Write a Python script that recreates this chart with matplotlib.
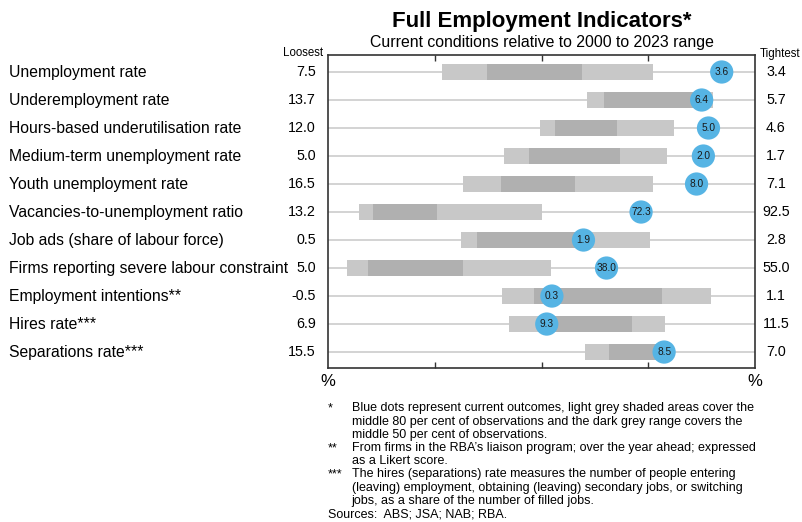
import matplotlib
matplotlib.use("Agg")
import matplotlib.pyplot as plt
from matplotlib.transforms import blended_transform_factory

plt.rcParams['font.family'] = ['Liberation Sans', 'DejaVu Sans']

indicators = [
    "Unemployment rate",
    "Underemployment rate",
    "Hours-based underutilisation rate",
    "Medium-term unemployment rate",
    "Youth unemployment rate",
    "Vacancies-to-unemployment ratio",
    "Job ads (share of labour force)",
    "Firms reporting severe labour constraint",
    "Employment intentions**",
    "Hires rate***",
    "Separations rate***",
]
loosest = [7.5, 13.7, 12.0, 5.0, 16.5, 13.2, 0.5, 5.0, -0.5, 6.9, 15.5]
tightest = [3.4, 5.7, 4.6, 1.7, 7.1, 92.5, 2.8, 55.0, 1.1, 11.5, 7.0]
current = [3.6, 6.4, 5.0, 2.0, 8.0, 72.3, 1.9, 38.0, 0.3, 9.3, 8.5]

# Positions within the 2000-2023 range (per cent, loosest = 0, tightest = 100)
current_pos = [92.2, 87.5, 89.1, 87.9, 86.3, 73.3, 59.8, 65.2, 52.4, 51.2, 78.7]
p10 = [26.7, 60.7, 49.7, 41.2, 31.6, 7.2, 31.1, 4.4, 40.7, 42.4, 60.2]
p90 = [76.2, 90.1, 81.1, 79.3, 76.0, 50.0, 75.5, 52.3, 89.6, 78.8, 80.0]
p25 = [37.1, 64.5, 53.2, 47.1, 40.4, 10.5, 34.8, 9.3, 48.2, 50.5, 65.9]
p75 = [59.4, 89.0, 67.6, 68.4, 57.7, 25.4, 59.5, 31.6, 78.1, 71.1, 78.0]

footnotes = [
    ("*", ["Blue dots represent current outcomes, light grey shaded areas cover the",
           "middle 80 per cent of observations and the dark grey range covers the",
           "middle 50 per cent of observations."]),
    ("**", ["From firms in the RBA\u2019s liaison program; over the year ahead; expressed",
            "as a Likert score."]),
    ("***", ["The hires (separations) rate measures the number of people entering",
             "(leaving) employment, obtaining (leaving) secondary jobs, or switching",
             "jobs, as a share of the number of filled jobs."]),
]
sources = "Sources:  ABS; JSA; NAB; RBA."

W, H = 803, 522
fig = plt.figure(figsize=(W / 100, H / 100), dpi=100)


def fx(px):
    return px / W


def fy(py):
    return 1 - py / H


ax = fig.add_axes([fx(328.3), fy(368.3), fx(755) - fx(328.3), fy(54.5) - fy(368.3)])

LIGHT = "#c8c8c8"
DARK = "#b0b0b0"
BLUE = "#56b4e4"
GRID = "#d0d0d0"
bar_h = 0.55

rows = list(range(len(indicators)))
for i in rows:
    ax.axhline(i, color=GRID, lw=1.3, zorder=1)
ax.barh(rows, [b - a for a, b in zip(p10, p90)], left=p10, height=bar_h,
        color=LIGHT, zorder=2, linewidth=0)
ax.barh(rows, [b - a for a, b in zip(p25, p75)], left=p25, height=bar_h,
        color=DARK, zorder=3, linewidth=0)
ax.scatter(current_pos, rows, s=280, color=BLUE, edgecolors='none', zorder=4)
for i in rows:
    ax.text(current_pos[i], i, f"{current[i]:.1f}", ha='center', va='center',
            fontsize=7.3, color='#1a1a1a', zorder=5)

ax.set_xlim(0, 100)
ax.set_ylim(len(indicators) - 1 + 0.58, -0.625)
ax.set_xticks([25, 50, 75])
ax.set_yticks([])
ax.tick_params(axis='x', direction='in', top=True, bottom=True, length=4,
               width=1, color='#333333', labelbottom=False, labeltop=False)
for s in ax.spines.values():
    s.set_color('#333333')
    s.set_linewidth(1.2)

# Row labels and range end values
tr = blended_transform_factory(fig.transFigure, ax.transData)
for i in rows:
    ax.text(fx(9), i, indicators[i], transform=tr, ha='left', va='center',
            fontsize=11.3, color='black')
    ax.text(fx(316), i, f"{loosest[i]:.1f}", transform=tr, ha='right',
            va='center', fontsize=10.3, color='black')
    ax.text(fx(776), i, f"{tightest[i]:.1f}", transform=tr, ha='center',
            va='center', fontsize=10.3, color='black')

fig.text(fx(323), fy(53.5), "Loosest", ha='right', va='center', fontsize=8.3)
fig.text(fx(760), fy(53.5), "Tightest", ha='left', va='center', fontsize=8.3)

fig.text(fx(541.7), fy(21), "Full Employment Indicators*", ha='center',
         va='center', fontsize=16, fontweight='bold')
fig.text(fx(541.7), fy(43), "Current conditions relative to 2000 to 2023 range",
         ha='center', va='center', fontsize=11.4)

fig.text(fx(328.3), fy(382), "%", ha='center', va='center', fontsize=12)
fig.text(fx(755), fy(382), "%", ha='center', va='center', fontsize=12)

# Notes
y = 408.5
step = 13.2
for mark, lines in footnotes:
    fig.text(fx(328), fy(y), mark, ha='left', va='center', fontsize=9)
    for line in lines:
        fig.text(fx(351.7), fy(y), line, ha='left', va='center', fontsize=9)
        y += step
fig.text(fx(328.5), fy(y), sources, ha='left', va='center', fontsize=9)

fig.savefig("out.png", dpi=100)
